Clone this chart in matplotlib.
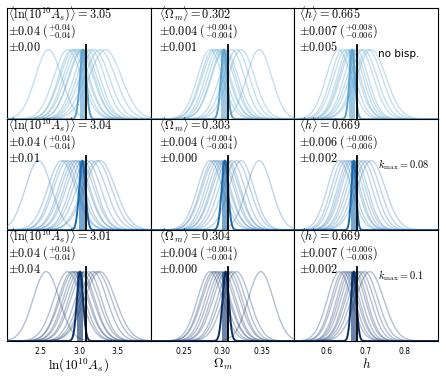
import numpy as np
import matplotlib
matplotlib.use('Agg')
import matplotlib.pyplot as plt

plt.rcParams['mathtext.fontset'] = 'cm'
plt.rcParams['font.family'] = ['DejaVu Sans']

# ---------------- data ----------------
xlabels = [r'$\ln(10^{10}A_s)$', r'$\Omega_m$', r'$h$']
mean_labels = [r'\ln(10^{10}A_s)', r'\Omega_m', r'h']
truth = [3.094, 0.3071, 0.6777]
xticks = [[2.5, 3.0, 3.5], [0.25, 0.30, 0.35], [0.6, 0.7, 0.8]]
row_labels = ['no bisp.', r'$k_{\rm max}=0.08$', r'$k_{\rm max}=0.1$']

# individual fits (means and sigmas), row = case, column = parameter
means_r1_lnAs = [2.60, 2.85, 2.90, 2.93, 2.96, 3.00, 3.03, 3.05, 3.10, 3.15, 3.20, 3.27, 3.34]
sig_r1_lnAs = [0.17, 0.18, 0.17, 0.18, 0.17, 0.18, 0.17, 0.18, 0.17, 0.18, 0.19, 0.20, 0.21]
means_r1_Om = [0.284, 0.288, 0.291, 0.294, 0.298, 0.301, 0.303, 0.312, 0.318, 0.324, 0.347]
sig_r1_Om = [0.016, 0.016, 0.017, 0.016, 0.0165, 0.016, 0.017, 0.016, 0.0165, 0.017, 0.016]
means_r1_h = [0.630, 0.641, 0.649, 0.656, 0.662, 0.667, 0.675, 0.686, 0.694, 0.706, 0.714]
sig_r1_h = [0.032, 0.031, 0.032, 0.030, 0.031, 0.032, 0.031, 0.034, 0.035, 0.036, 0.038]

means_r2_lnAs = [2.47, 2.77, 2.81, 2.85, 2.90, 2.94, 2.97, 3.01, 3.05, 3.10, 3.16, 3.23, 3.27]
sig_r2_lnAs = [0.17, 0.18, 0.17, 0.18, 0.17, 0.18, 0.17, 0.18, 0.17, 0.18, 0.19, 0.19, 0.20]
means_r2_Om = [0.284, 0.288, 0.291, 0.294, 0.298, 0.301, 0.304, 0.307, 0.312, 0.318, 0.324, 0.347]
sig_r2_Om = [0.016, 0.016, 0.017, 0.016, 0.0165, 0.016, 0.017, 0.016, 0.0165, 0.017, 0.016, 0.016]
means_r2_h = [0.632, 0.641, 0.649, 0.656, 0.662, 0.668, 0.675, 0.684, 0.693, 0.703, 0.714]
sig_r2_h = [0.031, 0.030, 0.031, 0.029, 0.030, 0.031, 0.030, 0.032, 0.033, 0.034, 0.036]

means_r3_lnAs = [2.57, 2.85, 2.90, 2.93, 2.96, 3.00, 3.03, 3.07, 3.12, 3.18, 3.23, 3.27]
sig_r3_lnAs = [0.17, 0.18, 0.17, 0.18, 0.17, 0.18, 0.17, 0.18, 0.17, 0.18, 0.19, 0.20]
means_r3_Om = [0.284, 0.288, 0.291, 0.294, 0.298, 0.301, 0.305, 0.309, 0.313, 0.318, 0.349]
sig_r3_Om = [0.016, 0.016, 0.017, 0.016, 0.0165, 0.016, 0.017, 0.016, 0.0165, 0.017, 0.016]
means_r3_h = [0.632, 0.641, 0.647, 0.654, 0.660, 0.667, 0.673, 0.680, 0.688, 0.697, 0.710]
sig_r3_h = [0.031, 0.030, 0.031, 0.029, 0.030, 0.031, 0.030, 0.032, 0.033, 0.034, 0.036]

# summary: mean, average error, (+err, -err), scatter of means
summ_mean = [[3.05, 0.302, 0.665], [3.04, 0.303, 0.669], [3.01, 0.304, 0.669]]
summ_err = [[0.04, 0.004, 0.007], [0.04, 0.004, 0.006], [0.04, 0.004, 0.007]]
summ_errp = [[0.04, 0.004, 0.008], [0.04, 0.004, 0.006], [0.04, 0.004, 0.006]]
summ_errm = [[0.04, 0.004, 0.006], [0.04, 0.004, 0.006], [0.04, 0.004, 0.008]]
summ_scat = [[0.00, 0.001, 0.005], [0.01, 0.000, 0.002], [0.04, 0.000, 0.002]]

means = [[means_r1_lnAs, means_r1_Om, means_r1_h],
         [means_r2_lnAs, means_r2_Om, means_r2_h],
         [means_r3_lnAs, means_r3_Om, means_r3_h]]
sigmas = [[sig_r1_lnAs, sig_r1_Om, sig_r1_h],
          [sig_r2_lnAs, sig_r2_Om, sig_r2_h],
          [sig_r3_lnAs, sig_r3_Om, sig_r3_h]]

# ---------------- style ----------------
xlims = [(2.06, 3.93), (0.208, 0.392), (0.516, 0.886)]
decimals = [2, 3, 3]
text_x = [0.008, 0.06, 0.03]
cmap = plt.get_cmap('Blues')
row_colors = [cmap(0.55), cmap(0.78), cmap(1.0)]
row_alpha = [0.35, 0.28, 0.3]

fig, axes = plt.subplots(3, 3, figsize=(4.46, 3.76), dpi=100)
fig.subplots_adjust(left=7/446, right=438/446, top=1-8/376, bottom=1-341/376,
                    wspace=0, hspace=0)

def gauss(x, m, s):
    return np.exp(-0.5 * ((x - m) / s) ** 2)

for r in range(3):
    for c in range(3):
        ax = axes[r, c]
        col = row_colors[r]
        x = np.linspace(xlims[c][0], xlims[c][1], 600)
        for m, s in zip(means[r][c], sigmas[r][c]):
            ax.plot(x, gauss(x, m, s), color=col, alpha=row_alpha[r], lw=1.0, zorder=3)
        mu = summ_mean[r][c]
        er = summ_err[r][c]
        ax.fill_between([mu - er, mu + er], 0, 1, color=col, alpha=0.6, lw=0, zorder=3)
        ax.plot(x, gauss(x, mu, er), color=col, lw=1.4, zorder=4)
        ax.axvline(truth[c], ymin=0, ymax=0.665, color='black', lw=1.3, zorder=5)
        ax.set_xlim(*xlims[c])
        ax.set_ylim(0, 1.6)
        ax.set_yticks([])
        d = decimals[c]
        fmt = '{:.%df}' % d
        t1 = r'$\langle %s\rangle = %s$' % (mean_labels[c], fmt.format(summ_mean[r][c]))
        t2 = r'$\pm%s\ (^{+%s}_{-%s})$' % (fmt.format(summ_err[r][c]), fmt.format(summ_errp[r][c]),
                                             fmt.format(summ_errm[r][c]))
        t3 = r'$\pm%s$' % fmt.format(summ_scat[r][c])
        for yy, tt in zip([0.905, 0.748, 0.61], [t1, t2, t3]):
            ax.text(text_x[c], yy, tt, transform=ax.transAxes, fontsize=8.8,
                    ha='left', va='baseline', zorder=6)
        if c == 2:
            ax.text(0.58, 0.59, row_labels[r], transform=ax.transAxes, fontsize=7.5,
                    ha='left', va='center')
        for sp in ax.spines.values():
            sp.set_linewidth(0.8)
            sp.set_color('black')
        if r == 2:
            ax.set_xticks(xticks[c])
            ax.set_xticklabels([('{:.1f}' if c != 1 else '{:.2f}').format(v) for v in xticks[c]])
            ax.tick_params(axis='x', length=0, pad=4, labelsize=5.5)
            ax.set_xlabel(xlabels[c], fontsize=9.5, labelpad=1)
        else:
            ax.set_xticks([])

fig.savefig('out.png', dpi=100)
